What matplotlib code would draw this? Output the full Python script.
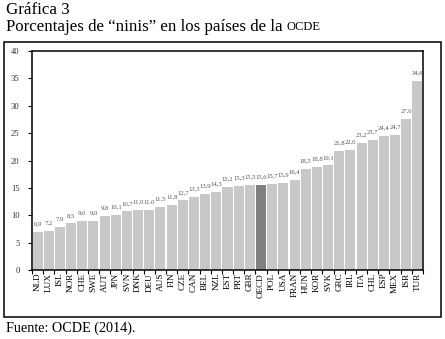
import numpy as np
import matplotlib
matplotlib.use("Agg")
import matplotlib.pyplot as plt
from matplotlib.patches import Rectangle

countries = ["NLD", "LUX", "ISL", "NOR", "CHE", "SWE", "AUT", "JPN", "SVN", "DNK",
             "DEU", "AUS", "FIN", "CZE", "CAN", "BEL", "NZL", "EST", "PRT", "GBR",
             "OECD", "POL", "USA", "FRAN", "HUN", "KOR", "SVK", "GRC", "IRL", "ITA",
             "CHL", "ESP", "MEX", "ISR", "TUR"]
values = [6.9, 7.2, 7.9, 8.5, 9.0, 9.0, 9.8, 10.1, 10.7, 11.0,
          11.0, 11.5, 11.8, 12.7, 13.3, 13.9, 14.3, 15.2, 15.3, 15.5,
          15.6, 15.7, 15.9, 16.4, 18.5, 18.8, 19.1, 21.8, 22.0, 23.2,
          23.7, 24.4, 24.7, 27.6, 34.6]
yticks = [0, 5, 10, 15, 20, 25, 30, 35, 40]

serif = ["Liberation Serif", "DejaVu Serif"]
W, H = 445, 339

fig = plt.figure(figsize=(W / 100, H / 100), dpi=100)
ax = fig.add_axes([32 / W, 1 - 270 / H, (423 - 32) / W, (270 - 51) / H])

x = np.arange(len(countries))
colors = ["#808080" if c == "OECD" else "#c8c8c8" for c in countries]
ax.bar(x, values, width=0.9, color=colors, edgecolor="none")

for xi, v in zip(x, values):
    ax.annotate(f"{v:.1f}".replace(".", ","), (xi, v), xytext=(0, 4),
                textcoords="offset points", ha="center", va="bottom",
                fontsize=4.8, color="#555555", family=serif)

ax.set_xlim(-0.5, len(countries) - 0.5)
ax.set_ylim(0, 40)
ax.set_yticks(yticks)
ax.set_yticklabels([str(t) for t in yticks], family=serif, fontsize=6.2, color="#333333")
ax.set_xticks(x)
ax.set_xticklabels(countries, rotation=90, family=serif, fontsize=6.6)
ax.set_xticks(np.arange(len(countries) + 1) - 0.5, minor=True)
ax.tick_params(axis="x", which="major", length=0, pad=2)
ax.tick_params(axis="x", which="minor", length=3, width=0.8, direction="out")
ax.tick_params(axis="y", length=3, width=0.8, direction="out", pad=6)
for s in ax.spines.values():
    s.set_linewidth(1.1)

# outer frame
fig.patches.append(Rectangle((4 / W, 1 - 317 / H), (441 - 4) / W, (317 - 42) / H,
                             transform=fig.transFigure, fill=False,
                             edgecolor="black", linewidth=1.1))

fig.text(6 / W, 1 - 10 / H, "Gráfica 3", family=serif, fontsize=12.2, va="center")
t1 = fig.text(6 / W, 1 - 27 / H, "Porcentajes de “ninis” en los países de la ",
              family=serif, fontsize=12.2, va="center")
r = fig.canvas.get_renderer()
bb = t1.get_window_extent(renderer=r)
fig.text(bb.x1 / W, 1 - 27.5 / H, "OCDE", family=serif, fontsize=9, va="center")

fig.text(6 / W, 1 - 328 / H, "Fuente: OCDE (2014).", family=serif, fontsize=10.2, va="center")

fig.savefig("out.png", dpi=100)
